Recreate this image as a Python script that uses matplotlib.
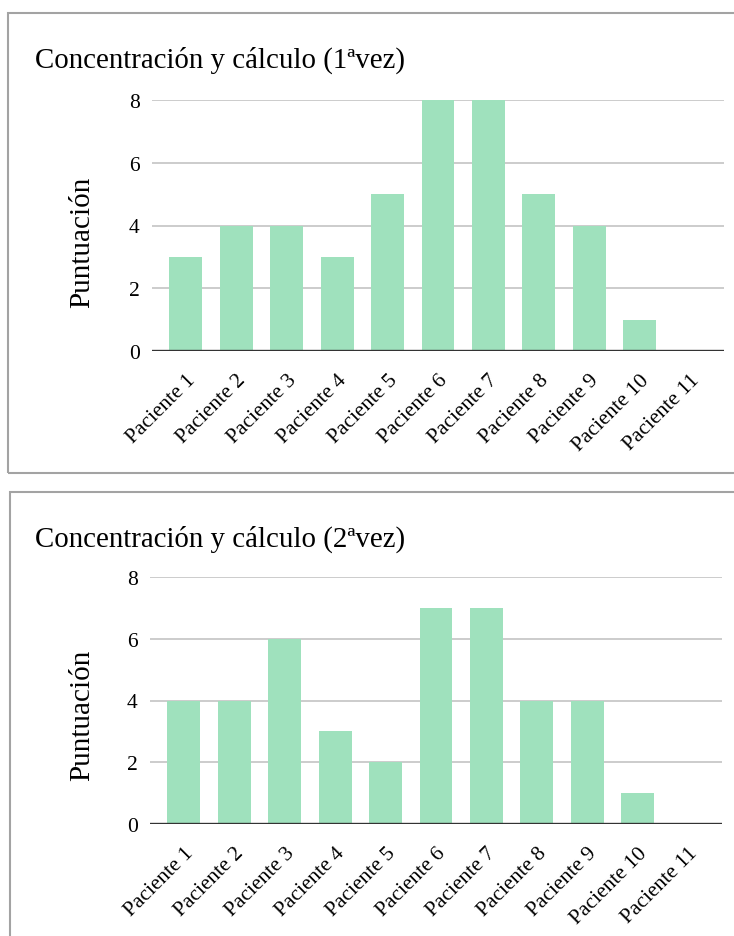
import matplotlib
matplotlib.use('Agg')
import matplotlib.pyplot as plt
from matplotlib.patches import Rectangle
import numpy as np

plt.rcParams['font.family'] = ['Liberation Serif', 'DejaVu Serif']

pacientes = ['Paciente 1', 'Paciente 2', 'Paciente 3', 'Paciente 4', 'Paciente 5',
             'Paciente 6', 'Paciente 7', 'Paciente 8', 'Paciente 9', 'Paciente 10',
             'Paciente 11']
puntos_1 = [3, 4, 4, 3, 5, 8, 8, 5, 4, 1, 0]
puntos_2 = [4, 4, 6, 3, 2, 7, 7, 4, 4, 1, 0]
titulos = ['Concentración y cálculo (1ªvez)', 'Concentración y cálculo (2ªvez)']
y_ticks = [0, 2, 4, 6, 8]

bar_color = '#9fe1bd'
W, H = 734, 937

fig = plt.figure(figsize=(W / 100, H / 100), dpi=100)

def px(x0, y0, x1, y1):
    # pixel box (from top-left) -> figure fraction rect
    return [x0 / W, 1 - y1 / H, (x1 - x0) / W, (y1 - y0) / H]

# marcos grises de cada grafico
for (x0, y0, y1) in [(8, 14, 474), (10, 493, 1000)]:
    fig.add_artist(Rectangle((x0 / W, 1 - y1 / H), 2.0, (y1 - y0) / H,
                             transform=fig.transFigure, fill=False,
                             edgecolor='#a3a3a3', linewidth=1.5, clip_on=False))

panels = [
    (px(152, 101, 724, 352), puntos_1, titulos[0], 68, 242),
    (px(150, 578, 722, 825), puntos_2, titulos[1], 547, 715),
]

x = np.arange(len(pacientes))
for rect, vals, title, title_y, lab_y in panels:
    ax = fig.add_axes(rect)
    ax.bar(x, vals, width=0.65, color=bar_color, zorder=2)
    ax.set_xlim(-0.67, len(pacientes) - 1 + 0.67)
    ax.set_ylim(0, 8)
    ax.set_yticks(y_ticks)
    ax.grid(axis='y', color='#c8c8c8', linewidth=1.3, zorder=0)
    ax.axhline(0, color='#333333', linewidth=1.7, zorder=3)
    for s in ax.spines.values():
        s.set_visible(False)
    ax.tick_params(axis='both', length=0, labelsize=15.5)
    ax.tick_params(axis='y', pad=9)
    ax.tick_params(axis='x', pad=14)
    ax.set_xticks(x)
    ax.set_xticklabels(pacientes, rotation=45, ha='right', va='top',
                       rotation_mode='anchor', fontsize=15.5)
    fig.text(35 / W, 1 - title_y / H, title, fontsize=20.8, ha='left', va='baseline')
    fig.text(82 / W, 1 - lab_y / H, 'Puntuación', fontsize=21, rotation=90,
             ha='center', va='center')

fig.savefig('out.png', dpi=100)
